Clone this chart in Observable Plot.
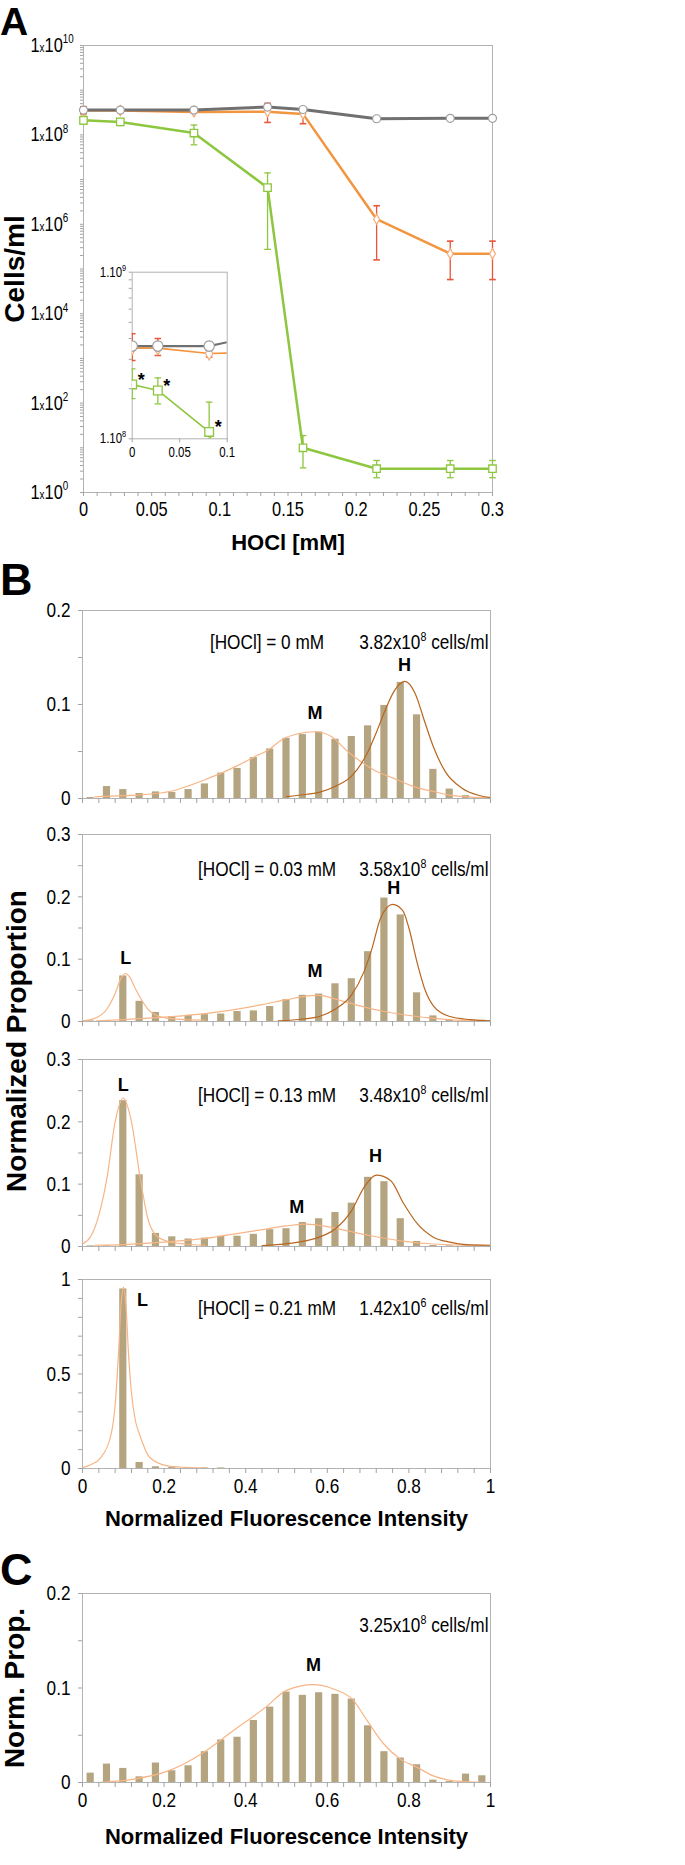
<!DOCTYPE html>
<html><head><meta charset="utf-8">
<script src="https://cdn.jsdelivr.net/npm/d3@7"></script>
<script src="https://cdn.jsdelivr.net/npm/@observablehq/plot@0.6"></script>
<style>
body{margin:0;background:#fff;}
#root{position:relative;width:685px;height:1865px;overflow:hidden;background:#fff;}
</style></head><body><div id="root">
<svg id="overlay" width="685" height="1865" style="position:absolute;left:0;top:0;pointer-events:none;z-index:5;font-family:'Liberation Sans',Arial,sans-serif;font-weight:bold">
<text x="0" y="35" font-size="39">A</text>
<text x="0" y="595" font-size="45">B</text>
<text x="0" y="1585" font-size="45">C</text>
<text transform="translate(16,1041) rotate(-90)" text-anchor="middle" dy="0.35em" font-size="28">Normalized Proportion</text>
</svg>
</div>
<script>
// ---------- Panel A data ----------
const hocl        = [0, 0.027, 0.081, 0.135, 0.161, 0.215, 0.269, 0.3];
const cellsTotal  = [3.6e8, 3.6e8, 3.6e8, 4.2e8, 3.7e8, 2.3e8, 2.35e8, 2.35e8];
const cellsOrange = [3.5e8, 3.5e8, 3.25e8, 3.3e8, 2.95e8, 1.3e6, 2.2e5, 2.2e5];
const orangeLo    = [2.95e8, 3.16e8, 3.1e8, 1.9e8, 1.78e8, 1.6e5, 5.8e4, 5.8e4];
const orangeHi    = [4.27e8, 4.0e8, 3.8e8, 5.1e8, 4.17e8, 2.6e6, 4.2e5, 4.2e5];
const cellsGreen  = [2.12e8, 1.95e8, 1.1e8, 6.6e6, 10, 3.4, 3.4, 3.4];
const greenLo     = [1.74e8, 1.62e8, 6.0e7, 2.75e5, 3.56, 2.14, 2.14, 2.14];
const greenHi     = [2.63e8, 2.32e8, 1.66e8, 1.41e7, 18.8, 5.2, 5.2, 5.2];
const greenSignif = [true, true, true, false, false, false, false, false];
const xLabelsA    = [0, 0.05, 0.1, 0.15, 0.2, 0.25, 0.3];
const yLabelsA    = [1, 1e2, 1e4, 1e6, 1e8, 1e10];
const xLabelsInset = [0, 0.05, 0.1];
const yLabelsInset = [1e8, 1e9];

// ---------- Panel B / C data ----------
const binCenters = [0.02,0.06,0.10,0.14,0.18,0.22,0.26,0.30,0.34,0.38,0.42,0.46,0.50,0.54,0.58,0.62,0.66,0.70,0.74,0.78,0.82,0.86,0.90,0.94,0.98];
const prop0   = [0.001,0.0127,0.0095,0.0053,0.007,0.0064,0.0095,0.0155,0.027,0.032,0.0435,0.0527,0.064,0.068,0.0707,0.063,0.066,0.0773,0.099,0.1235,0.089,0.031,0.01,0.003,0.001];
const prop003 = [0.001,0.001,0.073,0.0324,0.0146,0.008,0.0097,0.011,0.012,0.016,0.017,0.024,0.035,0.042,0.044,0.0605,0.0686,0.112,0.198,0.171,0.046,0.009,0.0016,0.001,0.002];
const prop013 = [0.001,0.001,0.234,0.115,0.021,0.0155,0.012,0.0134,0.0165,0.0165,0.0195,0.027,0.0285,0.0385,0.0445,0.0545,0.0695,0.111,0.104,0.0446,0.008,0.0016,0.001,0.001,0.001];
const prop021 = [0,0,0.95,0.032,0.009,0.005,0.001,0.003,0.003,0,0,0,0,0,0,0,0,0,0,0,0,0,0,0,0];
const propC   = [0.0099,0.0195,0.0149,0.006,0.0206,0.0124,0.0177,0.0326,0.045,0.0479,0.0656,0.0798,0.0957,0.0922,0.095,0.0933,0.0883,0.06,0.0326,0.0259,0.0188,0.0025,0.001,0.0089,0.0071];

// fitted curves
const fit0M_x = [0.03,0.1,0.18,0.22,0.26,0.3,0.34,0.38,0.42,0.46,0.49,0.53,0.57,0.61,0.65,0.68,0.72,0.76,0.82,0.86,0.9,0.95,1.0];
const fit0M_y = [0.0018,0.003,0.0053,0.008,0.0134,0.02,0.027,0.035,0.044,0.053,0.063,0.069,0.071,0.066,0.05,0.04,0.029,0.022,0.0116,0.0075,0.0035,0.0015,0.001];
const fit0H_x = [0.5,0.55,0.58,0.62,0.66,0.7,0.72,0.74,0.765,0.79,0.815,0.84,0.86,0.89,0.93,0.97,1.0];
const fit0H_y = [0.002,0.0045,0.0065,0.013,0.024,0.05,0.07,0.092,0.115,0.1245,0.112,0.08,0.055,0.028,0.011,0.0035,0.001];

const fit003L_x = [0,0.03,0.06,0.08,0.095,0.105,0.115,0.13,0.14,0.16,0.18,0.21,0.25,0.3];
const fit003L_y = [0.001,0.005,0.02,0.045,0.07,0.077,0.072,0.052,0.04,0.02,0.01,0.005,0.003,0.002];
const fit003M_x = [0.035,0.1,0.19,0.31,0.44,0.5,0.56,0.58,0.62,0.68,0.74,0.82,0.9,1.0];
const fit003M_y = [0.001,0.003,0.0065,0.0135,0.027,0.035,0.0415,0.042,0.036,0.025,0.016,0.008,0.003,0.001];
const fit003H_x = [0.48,0.54,0.58,0.62,0.66,0.69,0.71,0.73,0.76,0.785,0.8,0.82,0.84,0.86,0.9,0.95,1.0];
const fit003H_y = [0.001,0.004,0.008,0.02,0.043,0.08,0.118,0.165,0.188,0.178,0.15,0.095,0.05,0.025,0.008,0.003,0.001];

const fit013L_x = [0,0.02,0.04,0.06,0.08,0.1,0.12,0.14,0.16,0.18,0.21,0.25,0.3];
const fit013L_y = [0.004,0.016,0.05,0.11,0.2,0.238,0.2,0.116,0.045,0.018,0.008,0.004,0.002];
const fit013M_x = [0.03,0.1,0.2,0.3,0.37,0.45,0.5,0.55,0.6,0.65,0.7,0.78,0.86,1.0];
const fit013M_y = [0.002,0.003,0.007,0.013,0.02,0.028,0.033,0.036,0.032,0.025,0.018,0.009,0.004,0.0015];
const fit013H_x = [0.44,0.53,0.58,0.62,0.66,0.69,0.72,0.755,0.787,0.82,0.86,0.9,0.94,1.0];
const fit013H_y = [0.0015,0.007,0.015,0.0285,0.058,0.095,0.1145,0.106,0.069,0.037,0.015,0.007,0.003,0.002];

const fit021L_x = [0,0.02,0.045,0.07,0.081,0.088,0.095,0.1,0.106,0.113,0.12,0.13,0.14,0.165,0.208,0.25,0.3];
const fit021L_y = [0.005,0.02,0.058,0.18,0.36,0.6,0.88,0.96,0.88,0.6,0.4,0.25,0.18,0.058,0.014,0.006,0.003];

const fitC_x = [0.04,0.126,0.208,0.29,0.37,0.45,0.5,0.566,0.615,0.664,0.697,0.738,0.778,0.82,0.86,0.91,1.0];
const fitC_y = [0,0.0035,0.012,0.03,0.055,0.08,0.0975,0.1035,0.099,0.087,0.066,0.041,0.025,0.016,0.007,0.0018,0];

const histXLabels = [0, 0.2, 0.4, 0.6, 0.8, 1];

// ---------- styles ----------
const TICK_FONT = '"Liberation Sans",Arial,sans-serif';
const BOLD_FONT = '"Liberation Sans",Arial,sans-serif';
const NARROW = 0.82;   // horizontal squeeze to imitate a narrow face
const FRAME = "#b3b3b3", TICK = "#a3a3a3";
const BAR = "#b4a47f", FIT_LIGHT = "#f7b586", FIT_DARK = "#b8661f";
const GRAY = "#707070", ORANGE = "#f2953f", ORANGE_ERR = "#e8553a", GREEN = "#8dc63f";
const BAR_HALF = 0.0088;

const root = document.getElementById("root");
function condense(svg) {
  d3.select(svg).selectAll("text").each(function() {
    const fw = getComputedStyle(this).fontWeight;
    if (fw === "bold" || +fw >= 600) return;
    if (!this.textContent) return;
    const ax = +(this.getAttribute("x") || 0);
    const t = this.getAttribute("transform") || "";
    this.setAttribute("transform", `${t} translate(${ax},0) scale(${NARROW},1) translate(${-ax},0)`);
  });
}
function place(svg, left, top, z) {
  svg.style.position = "absolute"; svg.style.left = left + "px"; svg.style.top = top + "px";
  svg.style.zIndex = z || 1;
  root.appendChild(svg);
  condense(svg);
}
function richify(svg, smallX, supSize, rise) {
  d3.select(svg).selectAll("text").each(function() {
    const s = this.textContent;
    const m = s.match(/^(.*?)\^(\d+)(.*)$/);
    if (!m) return;
    const [, pre, sup, post] = m;
    this.textContent = "";
    const sel = d3.select(this);
    const i = pre.lastIndexOf("x");
    if (smallX && i >= 0) {
      sel.append("tspan").text(pre.slice(0, i));
      sel.append("tspan").attr("font-size", supSize).text("x");
      sel.append("tspan").text(pre.slice(i + 1));
    } else sel.append("tspan").text(pre);
    sel.append("tspan").attr("font-size", supSize).attr("dy", -rise).text(sup);
    if (post) sel.append("tspan").attr("dy", rise).text(post);
  });
}
const capSymbol = {draw(c, size) { const r = Math.sqrt(size / Math.PI); c.moveTo(-r, 0); c.lineTo(r, 0); }};
const rowsOf = (xs, ys) => xs.map((x, i) => ({x, y: ys[i]}));

const rows = hocl.map((x, i) => ({
  x, total: cellsTotal[i], orange: cellsOrange[i], oLo: orangeLo[i], oHi: orangeHi[i],
  green: cellsGreen[i], gLo: greenLo[i], gHi: greenHi[i], sig: greenSignif[i]
}));

function seriesMarks(data, s) {
  return [
    Plot.ruleX(data, {x: "x", y1: "gLo", y2: "gHi", stroke: GREEN, strokeWidth: 1.3, clip: s.clip}),
    Plot.dot(data, {x: "x", y: "gLo", symbol: capSymbol, r: 3.3, stroke: GREEN, strokeWidth: 1.3, clip: s.clip}),
    Plot.dot(data, {x: "x", y: "gHi", symbol: capSymbol, r: 3.3, stroke: GREEN, strokeWidth: 1.3, clip: s.clip}),
    Plot.ruleX(data, {x: "x", y1: "oLo", y2: "oHi", stroke: ORANGE_ERR, strokeWidth: 1.3, clip: s.clip}),
    Plot.dot(data, {x: "x", y: "oLo", symbol: capSymbol, r: 3.3, stroke: ORANGE_ERR, strokeWidth: 1.6, clip: s.clip}),
    Plot.dot(data, {x: "x", y: "oHi", symbol: capSymbol, r: 3.3, stroke: ORANGE_ERR, strokeWidth: 1.6, clip: s.clip}),
    Plot.line(data, {x: "x", y: "green", stroke: GREEN, strokeWidth: s.lw, clip: s.clip}),
    Plot.line(data, {x: "x", y: "orange", stroke: ORANGE, strokeWidth: s.lw, clip: s.clip}),
    Plot.line(data, {x: "x", y: "total", stroke: GRAY, strokeWidth: s.lw + 0.5, clip: s.clip}),
    Plot.dot(data, {x: "x", y: "green", symbol: "square", r: s.rs, fill: "white", stroke: GREEN, strokeWidth: 1.3, clip: s.clip}),
    Plot.dot(data, {x: "x", y: "orange", symbol: "diamond", r: s.rd, fill: "white", stroke: "#f5ad78", strokeWidth: 1.2, clip: s.clip}),
    Plot.dot(data, {x: "x", y: "total", symbol: "circle", r: s.rc, fill: "white", stroke: "#9d9d9d", strokeWidth: 1.2, clip: s.clip})
  ];
}

// ---------- Panel A ----------
const xTicksA = d3.range(31).map(i => +(i * 0.01).toFixed(2));
const yTicksA = [];
for (let e = 0; e < 10; e++) for (let k = 1; k < 10; k++) yTicksA.push(k * 10 ** e);
yTicksA.push(1e10);

const plotA = Plot.plot({
  width: 685, height: 570, marginLeft: 83, marginRight: 193, marginTop: 45, marginBottom: 78,
  x: {domain: [0, 0.3]}, y: {type: "log", domain: [1, 1e10]},
  style: {fontFamily: TICK_FONT, fontSize: "20px", background: "transparent", overflow: "visible", color: "black"},
  marks: [
    Plot.frame({stroke: FRAME}),
    Plot.axisX({ticks: xTicksA, tickSize: 4, tickPadding: 5, stroke: TICK, label: null,
      tickFormat: d => xLabelsA.includes(d) ? String(d) : ""}),
    Plot.axisY({ticks: yTicksA, tickSize: 3, tickPadding: 50, textAnchor: "start", stroke: TICK, label: null,
      tickFormat: d => yLabelsA.includes(d) ? "1x10^" + Math.round(Math.log10(d)) : ""}),
    ...seriesMarks(rows, {lw: 2.5, rs: 4.2, rd: 3.1, rc: 4, clip: false}),
    Plot.text(["HOCl [mM]"], {frameAnchor: "bottom", dy: 57, fontFamily: BOLD_FONT, fontWeight: "bold", fontSize: 22}),
    Plot.text(["Cells/ml"], {frameAnchor: "left", dx: -68, rotate: -90, textAnchor: "middle", fontFamily: BOLD_FONT, fontWeight: "bold", fontSize: 28})
  ]
});
richify(plotA, true, 12, 8.5);
place(plotA, 0, 0, 1);

// ---------- Inset ----------
const insetRows = rows.slice(0, 4);
const yTicksInset = [1e8, 2e8, 3e8, 4e8, 5e8, 6e8, 7e8, 8e8, 9e8, 1e9];
const plotInset = Plot.plot({
  width: 150, height: 215, marginLeft: 41.7, marginRight: 13.3, marginTop: 21.7, marginBottom: 26.7,
  x: {domain: [0, 0.1]}, y: {type: "log", domain: [1e8, 1e9]},
  style: {fontFamily: TICK_FONT, fontSize: "14px", background: "transparent", overflow: "visible", color: "black"},
  marks: [
    Plot.frame({stroke: FRAME}),
    Plot.axisX({ticks: xLabelsInset, tickSize: 4, tickPadding: 4, stroke: TICK, label: null, tickFormat: d => String(d)}),
    Plot.axisY({ticks: yTicksInset, tickSize: 3, tickPadding: 3, stroke: TICK, label: null,
      tickFormat: d => yLabelsInset.includes(d) ? "1.10^" + Math.round(Math.log10(d)) : ""}),
    ...seriesMarks(insetRows, {lw: 1.6, rs: 4.9, rd: 4, rc: 5.2, clip: true}),
    Plot.text(insetRows.filter(d => d.sig), {x: "x", y: "green", text: () => "*", dx: 9, dy: -4.5,
      fontFamily: BOLD_FONT, fontWeight: "bold", fontSize: 18})
  ]
});
richify(plotInset, false, 9, 6);
place(plotInset, 90, 250, 2);

// ---------- Histogram panels ----------
const xTicksHist = d3.range(26).map(i => +(i * 0.04).toFixed(2));
function histPanel(cfg) {
  const bars = binCenters.map((x, i) => ({x, p: cfg.values[i]}));
  const marks = [
    Plot.rectY(bars, {x1: d => d.x - BAR_HALF, x2: d => d.x + BAR_HALF, y: "p", fill: BAR}),
    ...cfg.fits.map(f => Plot.line(rowsOf(f.x, f.y), {x: "x", y: "y", stroke: f.color, strokeWidth: 1.2, curve: "monotone-x"})),
    Plot.frame({stroke: FRAME}),
    Plot.axisX({ticks: xTicksHist, tickSize: 5, tickPadding: 5, stroke: TICK, label: null,
      tickFormat: d => cfg.xLabels && histXLabels.includes(d) ? String(d) : ""}),
    Plot.axisY({ticks: cfg.yTicks, tickSize: 4, tickPadding: 8, stroke: TICK, label: null,
      tickFormat: d => cfg.yLabels.includes(d) ? String(d) : ""}),
    Plot.text(cfg.peaks, {x: "x", y: "y", text: "t", fontFamily: BOLD_FONT, fontWeight: "bold", fontSize: 18}),
    Plot.text([cfg.cells], {frameAnchor: "top-right", dx: -2, dy: cfg.textDy, textAnchor: "end"})
  ];
  if (cfg.conc) marks.push(Plot.text([cfg.conc], {frameAnchor: "top-left", dx: 184.5, dy: cfg.textDy, textAnchor: "middle"}));
  if (cfg.xTitle) marks.push(Plot.text([cfg.xTitle], {frameAnchor: "bottom", dy: cfg.xTitleDy, fontFamily: BOLD_FONT, fontWeight: "bold", fontSize: 22}));
  if (cfg.yTitle) marks.push(Plot.text([cfg.yTitle], {frameAnchor: "left", dx: -67, rotate: -90, textAnchor: "middle", fontFamily: BOLD_FONT, fontWeight: "bold", fontSize: 28}));
  const svg = Plot.plot({
    width: 685, height: cfg.height, marginLeft: 82, marginRight: 195, marginTop: cfg.mt, marginBottom: cfg.mb,
    x: {domain: [0, 1]}, y: {domain: cfg.yDomain},
    style: {fontFamily: TICK_FONT, fontSize: "21px", background: "transparent", overflow: "visible", color: "black"},
    marks
  });
  richify(svg, false, 13, 8);
  place(svg, 0, cfg.top, 1);
}

histPanel({top: 570, height: 240, mt: 40, mb: 12, values: prop0, yDomain: [0, 0.2],
  yTicks: [0, 0.05, 0.1, 0.15, 0.2], yLabels: [0, 0.1, 0.2], textDy: 24,
  conc: "[HOCl] = 0 mM", cells: "3.82x10^8 cells/ml",
  fits: [{x: fit0M_x, y: fit0M_y, color: FIT_LIGHT}, {x: fit0H_x, y: fit0H_y, color: FIT_DARK}],
  peaks: [{t: "M", x: 0.57, y: 0.091}, {t: "H", x: 0.789, y: 0.142}]});

histPanel({top: 810, height: 223, mt: 24, mb: 12, values: prop003, yDomain: [0, 0.3],
  yTicks: [0, 0.05, 0.1, 0.15, 0.2, 0.25, 0.3], yLabels: [0, 0.1, 0.2, 0.3], textDy: 27,
  conc: "[HOCl] = 0.03 mM", cells: "3.58x10^8 cells/ml",
  fits: [{x: fit003L_x, y: fit003L_y, color: FIT_LIGHT}, {x: fit003M_x, y: fit003M_y, color: FIT_LIGHT}, {x: fit003H_x, y: fit003H_y, color: FIT_DARK}],
  peaks: [{t: "L", x: 0.106, y: 0.102}, {t: "M", x: 0.57, y: 0.081}, {t: "H", x: 0.763, y: 0.214}]});

histPanel({top: 1033, height: 225, mt: 26, mb: 12, values: prop013, yDomain: [0, 0.3],
  yTicks: [0, 0.05, 0.1, 0.15, 0.2, 0.25, 0.3], yLabels: [0, 0.1, 0.2, 0.3], textDy: 28,
  conc: "[HOCl] = 0.13 mM", cells: "3.48x10^8 cells/ml",
  fits: [{x: fit013L_x, y: fit013L_y, color: FIT_LIGHT}, {x: fit013M_x, y: fit013M_y, color: FIT_LIGHT}, {x: fit013H_x, y: fit013H_y, color: FIT_DARK}],
  peaks: [{t: "L", x: 0.1, y: 0.258}, {t: "M", x: 0.525, y: 0.063}, {t: "H", x: 0.718, y: 0.145}]});

histPanel({top: 1258, height: 298, mt: 21, mb: 88, values: prop021, yDomain: [0, 1],
  yTicks: [0, 0.1, 0.2, 0.3, 0.4, 0.5, 0.6, 0.7, 0.8, 0.9, 1], yLabels: [0, 0.5, 1], textDy: 21,
  conc: "[HOCl] = 0.21 mM", cells: "1.42x10^6 cells/ml", xLabels: true,
  xTitle: "Normalized Fluorescence Intensity", xTitleDy: 57,
  fits: [{x: fit021L_x, y: fit021L_y, color: FIT_LIGHT}],
  peaks: [{t: "L", x: 0.147, y: 0.889}]});

histPanel({top: 1556, height: 309, mt: 37, mb: 83, values: propC, yDomain: [0, 0.2],
  yTicks: [0, 0.05, 0.1, 0.15, 0.2], yLabels: [0, 0.1, 0.2], textDy: 24,
  cells: "3.25x10^8 cells/ml", xLabels: true,
  xTitle: "Normalized Fluorescence Intensity", xTitleDy: 61, yTitle: "Norm. Prop.",
  fits: [{x: fitC_x, y: fitC_y, color: FIT_LIGHT}],
  peaks: [{t: "M", x: 0.566, y: 0.124}]});
</script></body></html>
